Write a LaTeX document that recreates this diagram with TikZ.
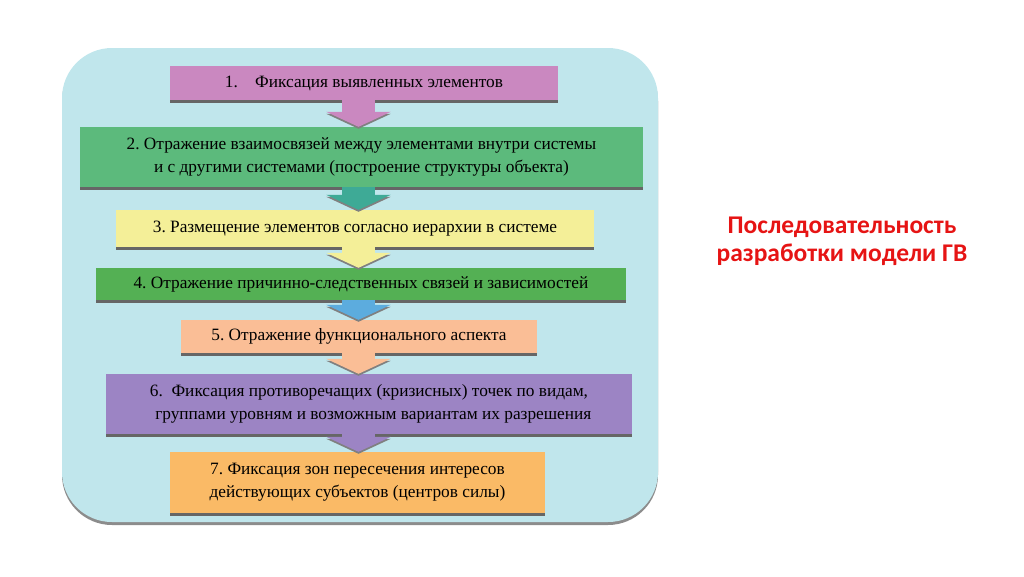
\documentclass[tikz,border=0pt]{standalone}
\usepackage{fontspec}
\setmainfont{Liberation Serif}
\newfontfamily\titlefont{Carlito}
\usetikzlibrary{arrows.meta}
\usetikzlibrary{shadows}

\definecolor{panelblue}{RGB}{192,230,236}
\definecolor{stepA}{RGB}{202,136,192}
\definecolor{stepB}{RGB}{92,186,124}
\definecolor{stepC}{RGB}{244,239,152}
\definecolor{stepD}{RGB}{84,176,84}
\definecolor{stepE}{RGB}{250,190,150}
\definecolor{stepF}{RGB}{156,132,196}
\definecolor{stepG}{RGB}{250,186,102}
\definecolor{arrB}{RGB}{62,170,150}
\definecolor{arrD}{RGB}{92,172,222}
\definecolor{titlered}{RGB}{230,20,20}

\tikzset{
  stepbox/.style={inner sep=0, align=center, font=\fontsize{17.3}{23}\selectfont,
    drop shadow={shadow xshift=0pt, shadow yshift=-3pt, fill=black!60, opacity=1}},
  flow/.style={line width=33, -{Triangle[width=64,length=15]},
    preaction={draw=black!50, transform canvas={yshift=-2pt}}}
}

\begin{document}
\begin{tikzpicture}[x=1pt,y=-1pt]
  \useasboundingbox (0,0) rectangle (1024,576);
  % panel %
  \fill[black!45, rounded corners=50] (62,51) rectangle (658,525);
  \fill[panelblue, rounded corners=50] (62,48) rectangle (658,522);
  % steps %
  \node[stepbox, fill=stepA, minimum width=388, minimum height=34] (s1) at (364,83)
    {1.\quad Фиксация выявленных элементов};
  \node[stepbox, fill=stepB, minimum width=563, minimum height=60] (s2) at (361.5,157)
    {2.\ Отражение взаимосвязей между элементами внутри системы\\и с другими системами (построение структуры объекта)};
  \node[stepbox, fill=stepC, minimum width=478, minimum height=37] (s3) at (355,228.5)
    {3.\ Размещение элементов согласно иерархии в системе};
  \node[stepbox, fill=stepD, minimum width=530, minimum height=32] (s4) at (361,284)
    {4.\ Отражение причинно-следственных связей и зависимостей};
  \node[stepbox, fill=stepE, minimum width=356, minimum height=33] (s5) at (359,336.5)
    {5.\ Отражение функционального аспекта};
  \node[stepbox, fill=stepF, minimum width=526, minimum height=60] (s6) at (369,404)
    {6.\ \ Фиксация противоречащих (кризисных) точек по видам,\\\ \ группами уровням и возможным вариантам их разрешения};
  \node[stepbox, fill=stepG, minimum width=375, minimum height=61] (s7) at (357.5,482.5)
    {7.\ Фиксация зон пересечения интересов\\действующих субъектов (центров силы)};
  % arrows %
  \draw[flow, stepA] (s1.south -| 358.5,0) -- (s2.north -| 358.5,0);
  \draw[flow, arrB] (s2.south -| 358.5,0) -- (s3.north -| 358.5,0);
  \draw[flow, stepC] (s3.south -| 358.5,0) -- (s4.north -| 358.5,0);
  \draw[flow, arrD] (s4.south -| 358.5,0) -- (s5.north -| 358.5,0);
  \draw[flow, stepE] (s5.south -| 358.5,0) -- (s6.north -| 358.5,0);
  \draw[flow, stepF] (s6.south -| 358.5,0) -- (s7.north -| 358.5,0);
  % title %
  \node[font=\titlefont\bfseries\fontsize{25.5}{28}\selectfont, text=titlered, align=center] (title) at (842,241)
    {Последовательность\\разработки модели ГВ};
\end{tikzpicture}
\end{document}
